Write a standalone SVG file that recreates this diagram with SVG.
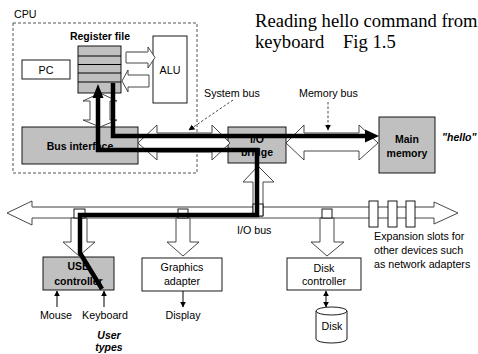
<svg xmlns="http://www.w3.org/2000/svg" width="478" height="354" viewBox="0 0 478 354">
<defs>
<style>
.t{font-family:"Liberation Sans",Arial,sans-serif;font-size:10.7px;fill:#000}
.b{font-weight:bold;font-size:10.5px}
.c{text-anchor:middle}
.ti{font-family:"Liberation Serif","Times New Roman",serif;font-size:18.6px;fill:#000}
.box{stroke:#000;stroke-width:0.9}
.g{fill:#c0c0c0}
.w{fill:#fff}
.bus{fill:#fff;stroke:#333;stroke-width:0.9}
.top{stroke:#999;stroke-width:1.2}
.thin{stroke:#000;stroke-width:1;fill:none}
.thick{stroke:#000;stroke-width:4.5;fill:none;stroke-linejoin:miter}
.dash{stroke:#333;stroke-width:0.9;stroke-dasharray:2.5,2;fill:none}
</style>
<marker id="ah" viewBox="0 0 10 10" refX="9" refY="5" markerWidth="6" markerHeight="6" orient="auto-start-reverse" markerUnits="userSpaceOnUse">
<path d="M0,0 L10,5 L0,10 z" fill="#000"/>
</marker>
</defs>
<rect width="478" height="354" fill="#fff"/>

<g id="title">
<text class="ti" x="255" y="27">Reading hello command from</text>
<text class="ti" x="255" y="48">keyboard</text>
<text class="ti" x="343" y="48">Fig 1.5</text>
</g>

<g id="cpu">
<rect x="13" y="23" width="184" height="150" fill="none" stroke="#555" stroke-width="1" stroke-dasharray="3,2"/>
<text class="t" x="14" y="18">CPU</text>
</g>

<g id="register-file">
<text class="t b c" x="100" y="40">Register file</text>
<rect class="box g" x="78" y="46" width="43" height="47"/>
<line class="thin" x1="78" y1="56" x2="121" y2="56"/>
<line class="thin" x1="78" y1="64.5" x2="121" y2="64.5"/>
<line class="thin" x1="78" y1="73" x2="121" y2="73"/>
<line class="thin" x1="78" y1="82" x2="121" y2="82"/>
</g>

<g id="pc">
<rect class="box w" x="22" y="60" width="48" height="19"/>
<text class="t c" x="46" y="74">PC</text>
</g>

<g id="alu">
<rect class="box w" x="153" y="36" width="34" height="67"/>
<text class="t c" x="170" y="74">ALU</text>
</g>

<g id="bus-interface">
<rect class="box g" x="22" y="127" width="116" height="37"/>
<text class="t b c" x="80" y="150">Bus interface</text>
</g>

<g id="io-bridge">
<rect class="box g" x="228" y="127" width="58" height="36"/>
<text class="t b c" x="257" y="143">I/O</text>
<text class="t b c" x="257" y="156">bridge</text>
</g>

<g id="main-memory">
<rect class="box g" x="379" y="117" width="56" height="56"/>
<text class="t b c" x="407" y="143">Main</text>
<text class="t b c" x="407" y="157">memory</text>
<text class="t b" x="442" y="141" font-style="italic">"hello"</text>
</g>

<g id="usb-controller">
<rect class="box g" x="43" y="257" width="71" height="33"/>
<text class="t b c" x="78.5" y="270">USB</text>
<text class="t b c" x="78.5" y="285">controller</text>
</g>

<g id="graphics-adapter">
<rect class="box w" x="142" y="258" width="80" height="33"/>
<text class="t c" x="182" y="271">Graphics</text>
<text class="t c" x="182" y="285">adapter</text>
</g>

<g id="disk-controller">
<rect class="box w" x="287" y="258" width="74" height="32"/>
<text class="t c" x="324" y="272">Disk</text>
<text class="t c" x="324" y="285">controller</text>
</g>

<g id="disk">
<path d="M316,311 L316,339 A15.5,4 0 0 0 347,339 L347,311" fill="#fff" stroke="#000" stroke-width="0.9"/>
<ellipse cx="331.5" cy="311" rx="15.5" ry="4" fill="#fff" stroke="#000" stroke-width="0.9"/>
<text class="t c" x="332" y="330">Disk</text>
</g>

<g id="labels">
<text class="t" x="204" y="97">System bus</text>
<text class="t" x="299" y="97">Memory bus</text>
<text class="t" x="237" y="234">I/O bus</text>
<text class="t" x="374" y="240">Expansion slots for</text>
<text class="t" x="374" y="254">other devices such</text>
<text class="t" x="374" y="268">as network adapters</text>
<text class="t c" x="56" y="319">Mouse</text>
<text class="t c" x="105" y="319">Keyboard</text>
<text class="t c" x="183" y="319">Display</text>
<text class="t b c" x="109" y="339" font-style="italic">User</text>
<text class="t b c" x="109" y="350.5" font-style="italic">types</text>
</g>

<g id="connectors">
<!-- register to ALU -->
<polygon class="bus" points="126,52 148,52 148,47 155,57.5 148,68 148,63 126,63"/>
<line class="top" x1="126" y1="52" x2="148" y2="52"/>
<polygon class="bus" points="149,75 128,75 128,70 122,81 128,92 128,87 149,87"/>
<!-- register to bus interface -->
<polygon class="bus" points="100,93 117,101 110,101 110,120 117,120 100,127 83,120 90,120 90,101 83,101"/>
<!-- system bus -->
<polygon class="bus" points="138,143 157,125 157,133 212,133 212,125 230,143 212,160 212,152 157,152 157,160"/>
<line class="top" x1="157" y1="133" x2="212" y2="133"/>
<!-- memory bus -->
<polygon class="bus" points="286,143 304,125 304,133 359,133 359,125 378,143 359,160 359,151 304,151 304,160"/>
<line class="top" x1="304" y1="133" x2="359" y2="133"/>
<!-- I/O bus -->
<polygon class="bus" points="7,213 32,201 32,207 434,207 434,202 458,213 434,224 434,218 32,218 32,225"/>
<line class="top" x1="32" y1="207" x2="434" y2="207"/>
<!-- expansion slots -->
<rect class="box w" x="369" y="201" width="9" height="26"/>
<rect class="box w" x="388" y="201" width="9" height="26"/>
<rect class="box w" x="406" y="201" width="9" height="26"/>
<!-- bridge up arrow -->
<polygon class="bus" points="258,166 274,182 263,182 263,216 253,216 253,182 243,182"/>
<rect class="box w" x="253" y="204" width="10" height="12"/>
<!-- USB down arrow -->
<polygon class="bus" points="71,218 87,218 87,242 95,242 79,256 63,242 71,242"/>
<rect class="box w" x="74" y="209" width="11" height="9"/>
<!-- Graphics down arrow -->
<polygon class="bus" points="176,218 190,218 190,242 199,242 183,256 167,242 176,242"/>
<rect class="box w" x="178" y="209" width="10" height="9"/>
<!-- Disk down arrow -->
<polygon class="bus" points="320,218 334,218 334,242 344,242 327,256 311,242 320,242"/>
<rect class="box w" x="322" y="209" width="10" height="9"/>
<!-- thin arrows -->
<line class="thin" x1="57" y1="307" x2="57" y2="291" marker-end="url(#ah)"/>
<line class="thin" x1="104" y1="307" x2="104" y2="291" marker-end="url(#ah)"/>
<line class="thin" x1="183" y1="291" x2="183" y2="307" marker-end="url(#ah)"/>
<line class="thin" x1="326" y1="291" x2="326" y2="307" marker-start="url(#ah)" marker-end="url(#ah)"/>
<!-- dashed label pointers -->
<line class="dash" x1="233" y1="100" x2="189" y2="130" marker-end="url(#ah)"/>
<line class="dash" x1="328" y1="102" x2="328" y2="130" marker-end="url(#ah)"/>
<!-- thick data path: keyboard to register file -->
<polyline class="thick" points="102,289 80,253 80,215 257,215 257,150 98,150 98,96"/>
<polygon points="92.5,98 98,84 103.5,98" fill="#000"/>
<!-- thick data path: register file to main memory -->
<polyline class="thick" points="113,83 113,136 366,136"/>
<polygon points="365,129.5 379,136 365,142.5" fill="#000"/>
</g>
</svg>
